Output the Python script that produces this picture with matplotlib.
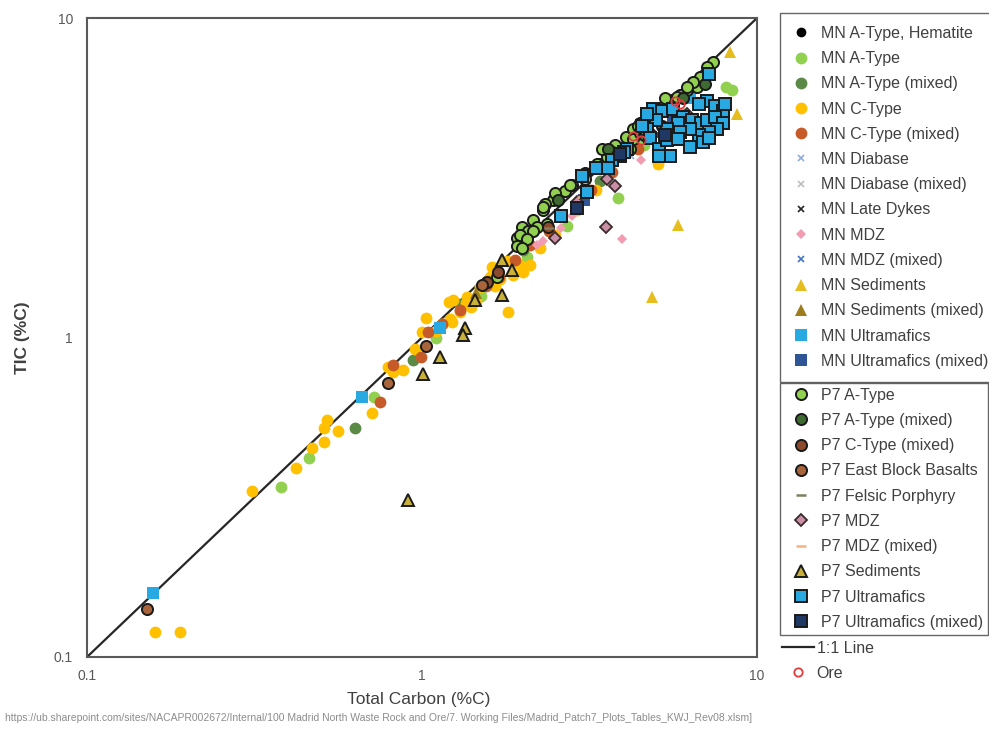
import matplotlib
matplotlib.use("Agg")
import matplotlib.pyplot as plt

plt.rcParams['font.family'] = ['Liberation Sans', 'DejaVu Sans']

# Total carbon (TC) against total inorganic carbon (TIC), both in %C
mn_hem_tc = [5.6]
mn_hem_tic = [5.35]

mn_a_tc = [0.38, 0.46, 0.72, 1.1, 1.5, 2.06, 2.7, 3.84, 4.6, 6.0, 8.1, 8.4]
mn_a_tic = [0.34, 0.42, 0.65, 1.0, 1.35, 1.78, 2.23, 2.74, 4.0, 5.0, 6.1, 5.95]

mn_a_mix_tc = [0.63, 0.94, 1.3, 2.0, 3.4]
mn_a_mix_tic = [0.52, 0.85, 1.27, 1.88, 3.1]

mn_c_tc = [0.16, 0.19, 0.31, 0.42, 0.47, 0.51, 0.52, 0.51, 0.56, 0.71,
           0.95, 0.82, 0.88, 1.0, 1.21, 0.79, 1.03, 1.24, 1.36, 1.49,
           1.6, 1.62, 1.79, 1.87, 1.71, 1.96, 2.1, 5.05, 1.2, 1.3,
           1.23, 1.8, 2.5, 2.9, 3.3, 1.4, 1.1, 1.15, 1.45, 1.65,
           2.0, 2.25, 1.35]
mn_c_tic = [0.12, 0.12, 0.33, 0.39, 0.45, 0.47, 0.55, 0.52, 0.51, 0.58,
            0.92, 0.78, 0.79, 1.04, 1.14, 0.81, 1.15, 1.31, 1.34, 1.44,
            1.55, 1.66, 1.73, 1.57, 1.52, 1.69, 1.69, 3.48, 1.29, 1.2,
            1.12, 1.2, 2.1, 2.5, 2.9, 1.25, 1.05, 1.1, 1.3, 1.45,
            1.6, 1.9, 1.28]

mn_c_mix_tc = [0.82, 0.75, 1.04, 0.99, 1.3, 1.55, 1.9, 2.4, 3.2, 3.7,
               4.4, 1.7, 2.1, 1.15]
mn_c_mix_tic = [0.82, 0.63, 1.04, 0.87, 1.22, 1.45, 1.75, 2.15, 2.9, 3.3,
                3.9, 1.55, 1.95, 1.1]

mn_diab_tc = [4.2]
mn_diab_tic = [3.7]
mn_diab_mix_tc = [3.1]
mn_diab_mix_tic = [2.8]
mn_dyke_tc = [2.6]
mn_dyke_tic = [2.45]

mn_mdz_tc = [3.95, 3.0, 4.5, 2.2, 2.6, 2.3, 2.8]
mn_mdz_tic = [2.03, 2.7, 3.6, 1.95, 2.2, 2.0, 2.4]
mn_mdz_mix_tc = [4.8]
mn_mdz_mix_tic = [4.4]

mn_sed_tc = [5.8, 4.87, 8.3, 8.7]
mn_sed_tic = [2.25, 1.34, 7.8, 5.0]
mn_sed_mix_tc = [1.45]
mn_sed_mix_tic = [1.38]

mn_um_tc = [0.157, 0.66, 1.13, 2.9, 6.3]
mn_um_tic = [0.159, 0.65, 1.07, 2.55, 5.6]
mn_um_mix_tc = [3.05, 5.6]
mn_um_mix_tic = [2.7, 4.9]

p7_a_tc = [2.15, 2.3, 2.46, 2.67, 2.8, 3.06, 3.4, 3.56, 3.77, 4.07,
           4.26, 4.48, 1.99, 1.92, 2.07, 2.36, 7.4, 7.1, 6.76, 6.6,
           6.2, 5.9, 5.57, 5.24, 5.0, 4.4, 4.26, 4.17, 3.9, 3.56,
           3.45, 2.2, 2.14, 1.96, 2.06, 1.92, 1.99, 2.33, 1.67, 6.45,
           6.2, 5.77, 5.3, 4.48, 3.7, 3.33, 3.06, 2.77, 2.5, 2.3]
p7_a_tic = [2.34, 2.5, 2.7, 2.87, 3.0, 3.28, 3.5, 3.8, 4.0, 4.25,
            4.5, 4.7, 2.22, 2.05, 2.15, 2.26, 7.3, 7.0, 6.55, 6.1,
            5.95, 5.75, 5.55, 5.28, 4.9, 4.58, 4.17, 3.88, 3.8, 3.68,
            3.88, 2.22, 2.16, 2.1, 2.03, 1.93, 1.91, 2.61, 1.55, 6.3,
            6.1, 5.67, 5.6, 4.38, 3.8, 3.5, 3.13, 3.0, 2.84, 2.56]

p7_a_mix_tc = [3.6, 4.6, 6.0, 2.55, 7.0, 5.2]
p7_a_mix_tic = [3.9, 4.3, 5.6, 2.7, 6.2, 4.6]

p7_c_mix_tc = [1.56, 1.69, 2.38]
p7_c_mix_tic = [1.49, 1.6, 2.21]

p7_ebb_tc = [0.151, 0.79, 1.03, 1.51]
p7_ebb_tic = [0.141, 0.72, 0.94, 1.46]

p7_fp_tc = [2.4]
p7_fp_tic = [2.2]

p7_mdz_tc = [3.55, 2.49, 3.77, 3.56, 4.9, 6.2, 2.9]
p7_mdz_tic = [2.22, 2.05, 2.97, 3.13, 4.3, 5.0, 2.65]
p7_mdz_mix_tc = [3.0]
p7_mdz_mix_tic = [2.75]

p7_sed_tc = [1.73, 1.86, 1.44, 1.73, 1.34, 1.33, 1.13, 1.01, 0.91]
p7_sed_tic = [1.75, 1.63, 1.31, 1.36, 1.07, 1.02, 0.87, 0.77, 0.31]

p7_um_tc = [7.2, 7.1, 6.7, 7.5, 7.9, 4.9, 5.2, 5.6, 6.0, 5.8,
            6.4, 6.8, 7.1, 7.5, 7.9, 7.6, 7.2, 6.7, 6.3, 5.9,
            5.4, 5.0, 4.7, 4.8, 5.1, 5.5, 6.9, 7.2, 4.7, 4.1,
            3.9, 3.7, 3.6, 4.55, 4.0, 3.3, 3.0, 3.1, 2.6, 5.1,
            8.0, 5.4, 5.8, 6.3]
p7_um_tic = [6.7, 5.5, 5.4, 5.3, 5.1, 5.2, 5.1, 5.2, 4.9, 4.7,
             4.8, 4.7, 4.8, 4.9, 4.7, 4.5, 4.4, 4.3, 4.5, 4.4,
             4.5, 4.8, 4.5, 4.2, 3.9, 3.7, 4.1, 4.2, 5.0, 3.9,
             3.7, 3.6, 3.4, 4.6, 3.8, 3.4, 3.2, 2.85, 2.4, 3.7,
             5.4, 4.15, 4.17, 3.95]

p7_um_mix_tc = [2.9, 3.9, 5.3]
p7_um_mix_tic = [2.55, 3.75, 4.3]

ore_tc = [5.7, 5.9, 4.26, 4.5]
ore_tic = [5.5, 5.4, 4.26, 4.15]

one_to_one = [0.1, 10]

# label, x, y, marker, size, face, edge, edge width
mn_series = [
    ("MN A-Type, Hematite", mn_hem_tc, mn_hem_tic, "o", 7, "#000000", "#000000", 0),
    ("MN A-Type", mn_a_tc, mn_a_tic, "o", 8.5, "#92d050", "#92d050", 0),
    ("MN A-Type (mixed)", mn_a_mix_tc, mn_a_mix_tic, "o", 8.5, "#5a8a46", "#5a8a46", 0),
    ("MN C-Type", mn_c_tc, mn_c_tic, "o", 8.5, "#ffc000", "#ffc000", 0),
    ("MN C-Type (mixed)", mn_c_mix_tc, mn_c_mix_tic, "o", 8.5, "#c65a28", "#c65a28", 0),
    ("MN Diabase", mn_diab_tc, mn_diab_tic, "x", 5, "#8faadc", "#8faadc", 1.2),
    ("MN Diabase (mixed)", mn_diab_mix_tc, mn_diab_mix_tic, "x", 5, "#bfbfbf", "#bfbfbf", 1.2),
    ("MN Late Dykes", mn_dyke_tc, mn_dyke_tic, "x", 5, "#262626", "#262626", 1.2),
    ("MN MDZ", mn_mdz_tc, mn_mdz_tic, "D", 5.5, "#f19cb0", "#f19cb0", 0),
    ("MN MDZ (mixed)", mn_mdz_mix_tc, mn_mdz_mix_tic, "x", 5, "#4472c4", "#4472c4", 1.2),
    ("MN Sediments", mn_sed_tc, mn_sed_tic, "^", 8.5, "#e6bd1e", "#e6bd1e", 0),
    ("MN Sediments (mixed)", mn_sed_mix_tc, mn_sed_mix_tic, "^", 8.5, "#9c7c1c", "#9c7c1c", 0),
    ("MN Ultramafics", mn_um_tc, mn_um_tic, "s", 8, "#29a9e1", "#29a9e1", 0),
    ("MN Ultramafics (mixed)", mn_um_mix_tc, mn_um_mix_tic, "s", 8, "#2f5597", "#2f5597", 0),
]

p7_series = [
    ("P7 A-Type", p7_a_tc, p7_a_tic, "o", 8, "#92d050", "#1a1a1a", 1.4),
    ("P7 A-Type (mixed)", p7_a_mix_tc, p7_a_mix_tic, "o", 8, "#3f6b32", "#1a1a1a", 1.4),
    ("P7 C-Type (mixed)", p7_c_mix_tc, p7_c_mix_tic, "o", 8, "#8b4a2b", "#1a1a1a", 1.4),
    ("P7 East Block Basalts", p7_ebb_tc, p7_ebb_tic, "o", 8, "#a8643a", "#1a1a1a", 1.4),
    ("P7 Felsic Porphyry", p7_fp_tc, p7_fp_tic, "_", 7, "#7f7f5f", "#7f7f5f", 1.8),
    ("P7 MDZ", p7_mdz_tc, p7_mdz_tic, "D", 6, "#c98fa6", "#3a2a2a", 1.3),
    ("P7 MDZ (mixed)", p7_mdz_mix_tc, p7_mdz_mix_tic, "_", 7, "#f4b183", "#f4b183", 1.8),
    ("P7 Sediments", p7_sed_tc, p7_sed_tic, "^", 8, "#c9b037", "#1a1a1a", 1.4),
    ("P7 Ultramafics", p7_um_tc, p7_um_tic, "s", 8.5, "#29a9e1", "#1a1a1a", 1.4),
    ("P7 Ultramafics (mixed)", p7_um_mix_tc, p7_um_mix_tic, "s", 8.5, "#1f3864", "#1a1a1a", 1.4),
]

fig = plt.figure(figsize=(9.89, 7.29), dpi=100)
ax = fig.add_axes([87 / 989, 1 - 657 / 729, 670 / 989, 639 / 729])

def draw(series):
    handles = []
    for lab, x, y, mk, ms, fc, ec, mew in series:
        h, = ax.plot(x, y, linestyle="none", marker=mk, ms=ms, mfc=fc,
                     mec=ec, mew=mew, label=lab, zorder=3)
        handles.append(h)
    return handles

mn_handles = draw(mn_series)
p7_handles = draw(p7_series)

line_h, = ax.plot(one_to_one, one_to_one, color="#262626", lw=1.6,
                  label="1:1 Line", zorder=2)
ore_h, = ax.plot(ore_tc, ore_tic, linestyle="none", marker="o", ms=6,
                 mfc="none", mec="#e03c3c", mew=1.3, label="Ore", zorder=4)

ax.set_xscale("log")
ax.set_yscale("log")
ax.set_xlim(0.1, 10)
ax.set_ylim(0.1, 10)
ax.set_xticks([0.1, 1, 10])
ax.set_xticklabels(["0.1", "1", "10"])
ax.set_yticks([0.1, 1, 10])
ax.set_yticklabels(["0.1", "1", "10"])
ax.minorticks_off()
ax.tick_params(length=0, labelsize=10, labelcolor="#595959")
ax.tick_params(axis="x", pad=9)
ax.tick_params(axis="y", pad=10)
for s in ax.spines.values():
    s.set_color("#595959")
    s.set_linewidth(1.5)

ax.set_xlabel("Total Carbon (%C)", fontsize=12.5, color="#404040")
ax.xaxis.set_label_coords(0.495, -0.055)
ax.set_ylabel("TIC (%C)", fontsize=12.5, color="#404040", fontweight="bold")
ax.yaxis.set_label_coords(-0.085, 0.5)

common = dict(fontsize=11.5, labelspacing=0.64, borderaxespad=0,
              fancybox=False, labelcolor="#404040")

leg1 = fig.legend(handles=mn_handles, loc="upper left",
                  bbox_to_anchor=(780 / 989, 1 - 12.5 / 729),
                  borderpad=0.84, handlelength=1.0, handletextpad=0.7,
                  **common)
leg1.get_frame().set_edgecolor("#404040")
leg1.get_frame().set_linewidth(1.0)

leg2 = fig.legend(handles=p7_handles, loc="upper left",
                  bbox_to_anchor=(780 / 989, 1 - 383 / 729),
                  borderpad=0.3, handlelength=2.05, handletextpad=0.2,
                  **common)
leg2.get_frame().set_edgecolor("#404040")
leg2.get_frame().set_linewidth(1.0)

leg3 = fig.legend(handles=[line_h, ore_h], loc="upper left",
                  bbox_to_anchor=(780 / 989, 1 - 639 / 729), frameon=False,
                  borderpad=0.1, handlelength=2.0, handletextpad=0.2,
                  **common)

fig.text(5 / 989, 1 - 718 / 729,
         "https://ub.sharepoint.com/sites/NACAPR002672/Internal/100 Madrid North Waste Rock and Ore/"
         "7. Working Files/Madrid_Patch7_Plots_Tables_KWJ_Rev08.xlsm]",
         fontsize=7.5, color="#8c8c8c", va="center", ha="left")

fig.savefig("out.png", dpi=100)
